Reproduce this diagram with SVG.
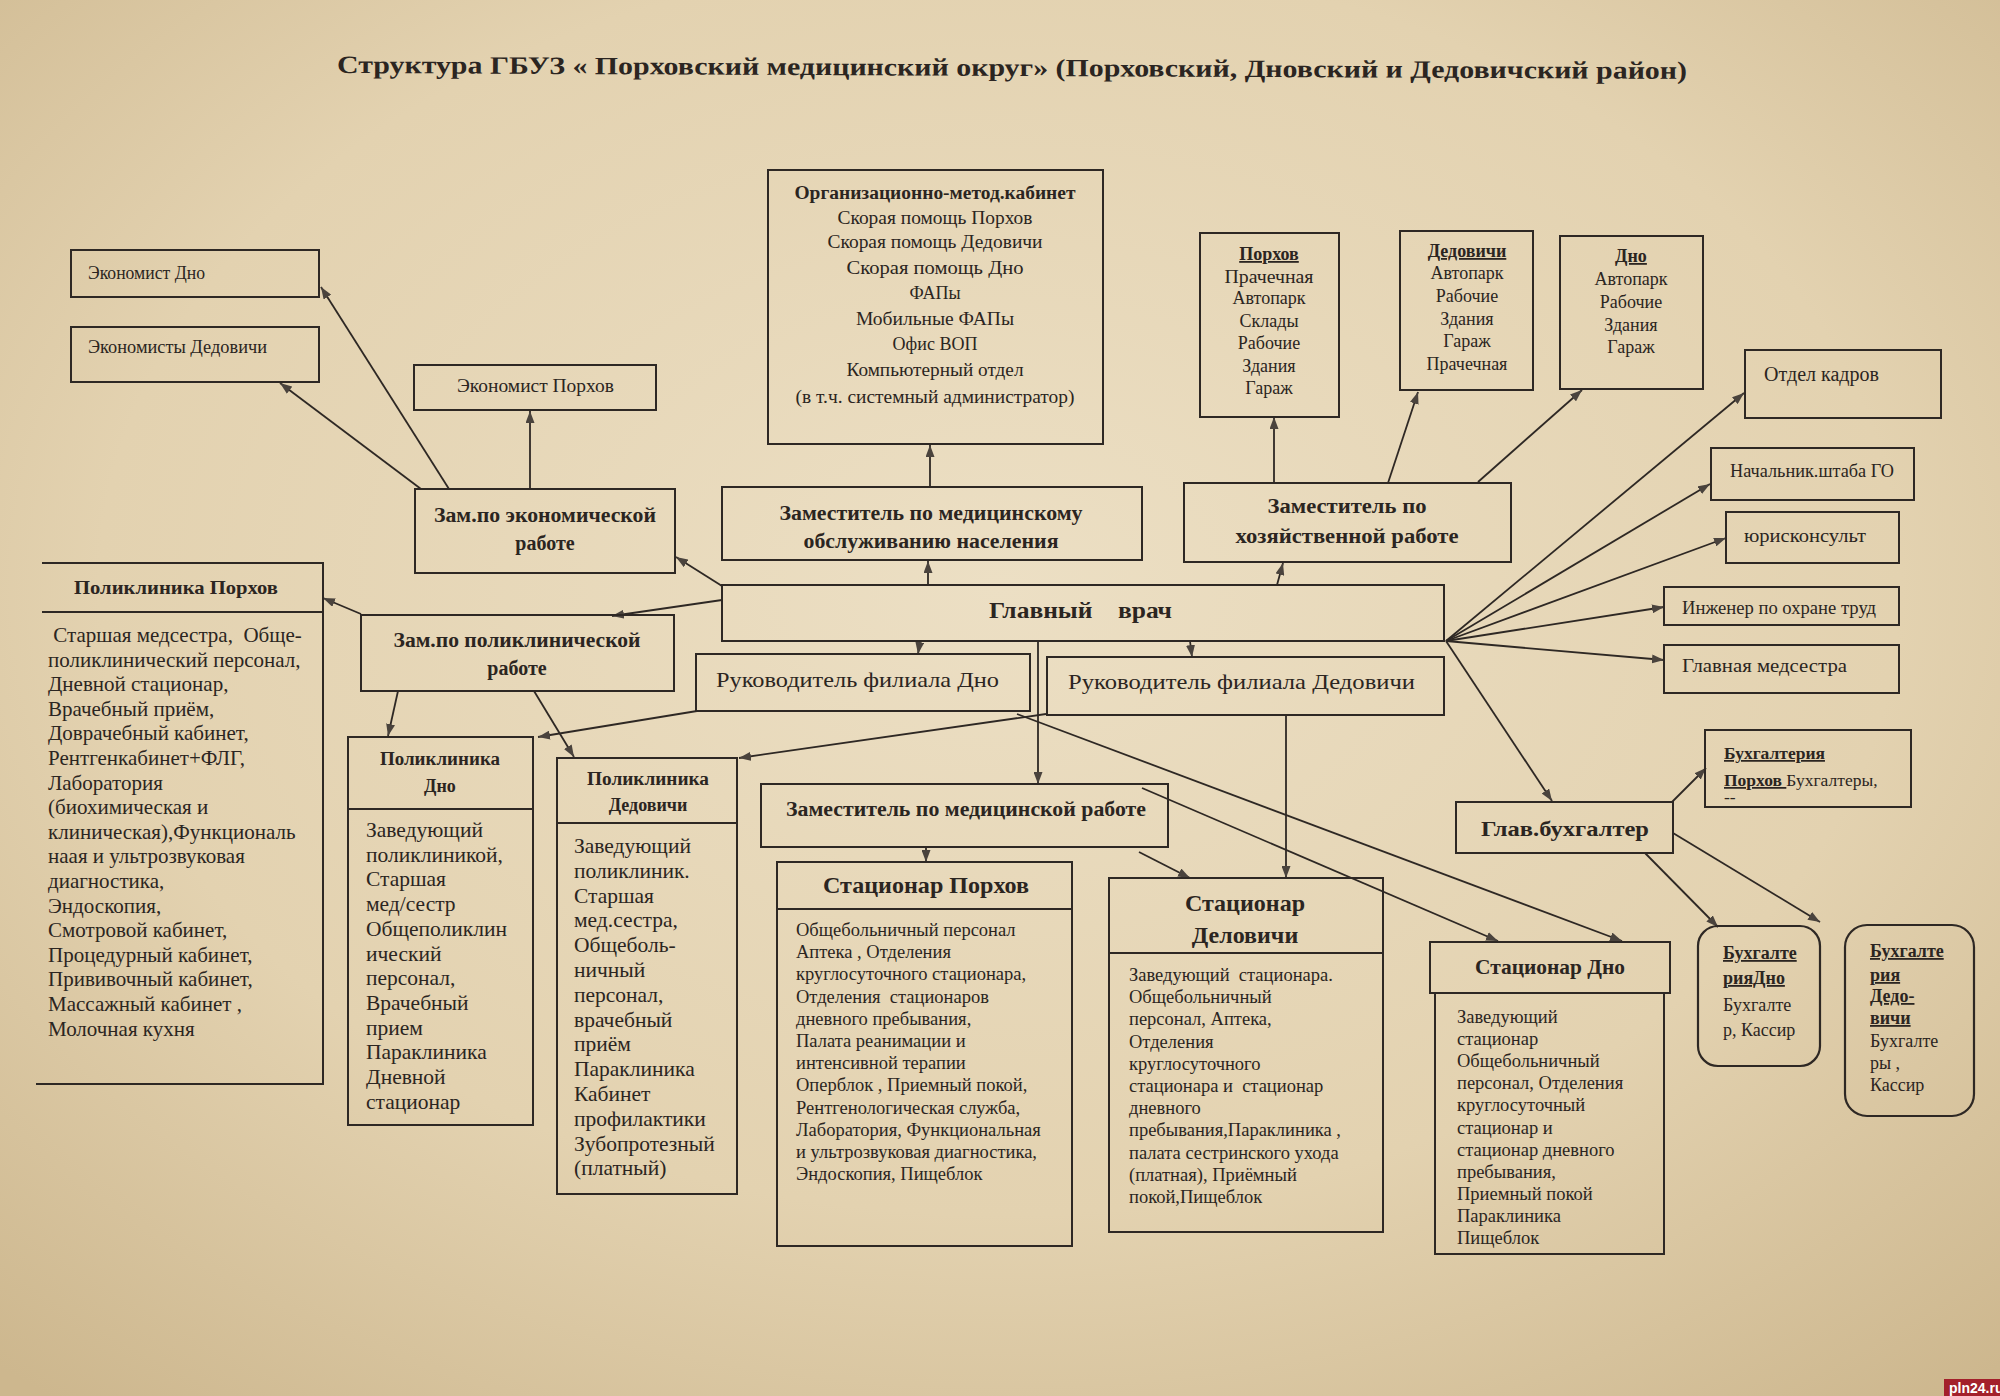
<svg xmlns="http://www.w3.org/2000/svg" width="2000" height="1396" viewBox="0 0 2000 1396">
<defs>
<radialGradient id="bg" cx="50%" cy="42%" r="75%">
<stop offset="0" stop-color="#ecdfc4"/>
<stop offset="0.6" stop-color="#e3d2b0"/>
<stop offset="1" stop-color="#cdb78e"/>
</radialGradient>
<marker id="ah" viewBox="0 0 12 9" refX="12" refY="4.5" markerWidth="12" markerHeight="9" markerUnits="userSpaceOnUse" orient="auto">
<path d="M0,0 L12,4.5 L0,9 z" fill="#4a433d"/>
</marker>
<style>
.bx{fill:none;stroke:#2e2824;stroke-width:2}
.rb{fill:none;stroke:#2e2824;stroke-width:2.2}
.ln{fill:none;stroke:#2e2824;stroke-width:1.8;marker-end:url(#ah)}
text{font-family:"Liberation Serif","Times New Roman",serif;fill:#2b2521}
.b{font-weight:bold}
.c{text-anchor:middle}
.u{text-decoration:underline}
.s17{font-size:18.5px}
.s18{font-size:18px}
.s19{font-size:19.5px}
.s20{font-size:20px}
.s22{font-size:22px}
.s24{font-size:24px}
</style>
</defs>
<rect width="2000" height="1396" fill="url(#bg)"/>

<text id="title" class="b" x="337" y="73" font-size="25" textLength="1350" lengthAdjust="spacingAndGlyphs" transform="rotate(0.25 337 73)">Структура ГБУЗ « Порховский медицинский округ» (Порховский, Дновский и Дедовичский район)</text>

<g id="connectors">
<line class="ln" x1="449" y1="489" x2="321" y2="287"/>
<line class="ln" x1="421" y1="489" x2="280" y2="383"/>
<line class="ln" x1="530" y1="489" x2="530" y2="411"/>
<line class="ln" x1="722" y1="586" x2="676" y2="557"/>
<line class="ln" x1="722" y1="600" x2="612" y2="616"/>
<line class="ln" x1="928" y1="585" x2="928" y2="561"/>
<line class="ln" x1="930" y1="487" x2="930" y2="445"/>
<line class="ln" x1="1277" y1="585" x2="1283" y2="563"/>
<line class="ln" x1="1274" y1="483" x2="1274" y2="417"/>
<line class="ln" x1="1388" y1="483" x2="1418" y2="392"/>
<line class="ln" x1="1478" y1="482" x2="1582" y2="390"/>
<line class="ln" x1="1446" y1="641" x2="1744" y2="393"/>
<line class="ln" x1="1446" y1="641" x2="1710" y2="484"/>
<line class="ln" x1="1446" y1="641" x2="1726" y2="538"/>
<line class="ln" x1="1446" y1="641" x2="1664" y2="607"/>
<line class="ln" x1="1446" y1="641" x2="1664" y2="660"/>
<line class="ln" x1="1446" y1="641" x2="1552" y2="801"/>
<line class="ln" x1="361" y1="614" x2="323" y2="598"/>
<line class="ln" x1="398" y1="691" x2="388" y2="736"/>
<line class="ln" x1="534" y1="691" x2="574" y2="757"/>
<line class="ln" x1="697" y1="711" x2="538" y2="737"/>
<line class="ln" x1="1046" y1="714" x2="739" y2="758"/>
<line class="ln" x1="920" y1="641" x2="918" y2="654"/>
<line class="ln" x1="1190" y1="641" x2="1192" y2="657"/>
<line class="ln" x1="1038" y1="641" x2="1038" y2="784"/>
<line class="ln" x1="926" y1="848" x2="926" y2="862"/>
<line class="ln" x1="1286" y1="715" x2="1286" y2="878"/>
<line class="ln" x1="1139" y1="852" x2="1190" y2="878"/>
<line class="ln" x1="1142" y1="788" x2="1498" y2="941"/>
<line class="ln" x1="1017" y1="714" x2="1622" y2="941"/>
<line class="ln" x1="1672" y1="802" x2="1706" y2="768"/>
<line class="ln" x1="1645" y1="853" x2="1718" y2="927"/>
<line class="ln" x1="1673" y1="833" x2="1820" y2="922"/>
</g>

<g id="n-ekon-dno">
<rect class="bx" x="71" y="250" width="248" height="47"/>
<text class="s18" x="88" y="279" textLength="117" lengthAdjust="spacingAndGlyphs">Экономист Дно</text>
</g>
<g id="n-ekon-ded">
<rect class="bx" x="71" y="327" width="248" height="55"/>
<text class="s18" x="88" y="353" textLength="179" lengthAdjust="spacingAndGlyphs">Экономисты  Дедовичи</text>
</g>
<g id="n-ekon-porh">
<rect class="bx" x="414" y="365" width="242" height="45"/>
<text class="s18" x="457" y="392" textLength="157" lengthAdjust="spacingAndGlyphs">Экономист Порхов</text>
</g>
<g id="n-zam-ekon">
<rect class="bx" x="415" y="489" width="260" height="84"/>
<text class="b s20 c" x="545" y="522" textLength="222" lengthAdjust="spacingAndGlyphs">Зам.по экономической</text>
<text class="b s20 c" x="545" y="550">работе</text>
</g>
<g id="n-orgmet">
<rect class="bx" x="768" y="170" width="335" height="274"/>
<text class="b s18 c" x="935" y="199" textLength="281" lengthAdjust="spacingAndGlyphs">Организационно-метод.кабинет</text>
<text class="s18 c" x="935" y="224" textLength="195" lengthAdjust="spacingAndGlyphs">Скорая помощь Порхов</text>
<text class="s18 c" x="935" y="248" textLength="215" lengthAdjust="spacingAndGlyphs">Скорая помощь Дедовичи</text>
<text class="s18 c" x="935" y="274" textLength="177" lengthAdjust="spacingAndGlyphs">Скорая  помощь  Дно</text>
<text class="s18 c" x="935" y="299">ФАПы</text>
<text class="s18 c" x="935" y="325" textLength="158" lengthAdjust="spacingAndGlyphs">Мобильные ФАПы</text>
<text class="s18 c" x="935" y="350">Офис ВОП</text>
<text class="s18 c" x="935" y="376" textLength="177" lengthAdjust="spacingAndGlyphs">Компьютерный отдел</text>
<text class="s18 c" x="935" y="403" textLength="279" lengthAdjust="spacingAndGlyphs">(в т.ч. системный администратор)</text>
</g>
<g id="n-zam-medobsl">
<rect class="bx" x="722" y="487" width="420" height="73"/>
<text class="b s20 c" x="931" y="520" textLength="303" lengthAdjust="spacingAndGlyphs">Заместитель по медицинскому</text>
<text class="b s20 c" x="931" y="548" textLength="255" lengthAdjust="spacingAndGlyphs">обслуживанию населения</text>
</g>
<g id="n-hoz-porh">
<rect class="bx" x="1200" y="233" width="139" height="184"/>
<text class="b s18 c u" x="1269" y="260">Порхов</text>
<text class="s18 c" x="1269" y="283" textLength="89" lengthAdjust="spacingAndGlyphs">Прачечная</text>
<text class="s18 c" x="1269" y="304">Автопарк</text>
<text class="s18 c" x="1269" y="327">Склады</text>
<text class="s18 c" x="1269" y="349">Рабочие</text>
<text class="s18 c" x="1269" y="372">Здания</text>
<text class="s18 c" x="1269" y="394">Гараж</text>
</g>
<g id="n-hoz-ded">
<rect class="bx" x="1400" y="231" width="133" height="159"/>
<text class="b s18 c u" x="1467" y="257">Дедовичи</text>
<text class="s18 c" x="1467" y="279">Автопарк</text>
<text class="s18 c" x="1467" y="302">Рабочие</text>
<text class="s18 c" x="1467" y="325">Здания</text>
<text class="s18 c" x="1467" y="347">Гараж</text>
<text class="s18 c" x="1467" y="370">Прачечная</text>
</g>
<g id="n-hoz-dno">
<rect class="bx" x="1560" y="236" width="143" height="153"/>
<text class="b s18 c u" x="1631" y="262">Дно</text>
<text class="s18 c" x="1631" y="285">Автопарк</text>
<text class="s18 c" x="1631" y="308">Рабочие</text>
<text class="s18 c" x="1631" y="331">Здания</text>
<text class="s18 c" x="1631" y="353">Гараж</text>
</g>
<g id="n-kadry">
<rect class="bx" x="1745" y="350" width="196" height="68"/>
<text class="s20" x="1764" y="381" textLength="115" lengthAdjust="spacingAndGlyphs">Отдел кадров</text>
</g>
<g id="n-zam-hoz">
<rect class="bx" x="1184" y="483" width="327" height="79"/>
<text class="b s20 c" x="1347" y="513" textLength="159" lengthAdjust="spacingAndGlyphs">Заместитель по</text>
<text class="b s20 c" x="1347" y="543" textLength="223" lengthAdjust="spacingAndGlyphs">хозяйственной работе</text>
</g>
<g id="n-go">
<rect class="bx" x="1711" y="448" width="203" height="52"/>
<text class="s18" x="1730" y="477" textLength="164" lengthAdjust="spacingAndGlyphs">Начальник.штаба ГО</text>
</g>
<g id="n-jur">
<rect class="bx" x="1726" y="512" width="173" height="51"/>
<text class="s18" x="1744" y="542" textLength="122" lengthAdjust="spacingAndGlyphs">юрисконсульт</text>
</g>
<g id="n-ing">
<rect class="bx" x="1664" y="587" width="235" height="38"/>
<text class="s18" x="1682" y="614" textLength="194" lengthAdjust="spacingAndGlyphs">Инженер по охране труд</text>
</g>
<g id="n-glmed">
<rect class="bx" x="1664" y="645" width="235" height="48"/>
<text class="s18" x="1682" y="672" textLength="165" lengthAdjust="spacingAndGlyphs">Главная медсестра</text>
</g>
<g id="n-glvrach">
<rect class="bx" x="722" y="585" width="722" height="56"/>
<text class="b s24" x="989" y="618" xml:space="preserve" textLength="183" lengthAdjust="spacingAndGlyphs">Главный    врач</text>
</g>
<g id="n-ruk-dno">
<rect class="bx" x="696" y="654" width="334" height="57"/>
<text class="s22" x="716" y="687" textLength="283" lengthAdjust="spacingAndGlyphs">Руководитель филиала Дно</text>
</g>
<g id="n-ruk-ded">
<rect class="bx" x="1047" y="657" width="397" height="58"/>
<text class="s22" x="1068" y="689" textLength="347" lengthAdjust="spacingAndGlyphs">Руководитель филиала Дедовичи</text>
</g>
<g id="n-zam-polikl">
<rect class="bx" x="361" y="615" width="313" height="76"/>
<text class="b s20 c" x="517" y="647" textLength="247" lengthAdjust="spacingAndGlyphs">Зам.по поликлинической</text>
<text class="b s20 c" x="517" y="675">работе</text>
</g>
<g id="n-pol-porh">
<path class="bx" d="M42,563 H323 V1084 H36 M42,612 H323"/>
<text class="b s19" x="74" y="594" textLength="204" lengthAdjust="spacingAndGlyphs">Поликлиника Порхов</text>
<g font-size="21">
<text x="48" y="642" xml:space="preserve"> Старшая медсестра,  Обще-</text>
<text x="48" y="666.6">поликлинический персонал,</text>
<text x="48" y="691.2">Дневной стационар,</text>
<text x="48" y="715.8">Врачебный приём,</text>
<text x="48" y="740.4">Доврачебный кабинет,</text>
<text x="48" y="765">Рентгенкабинет+ФЛГ,</text>
<text x="48" y="789.6">Лаборатория</text>
<text x="48" y="814.2">(биохимическая и</text>
<text x="48" y="838.8">клиническая),Функциональ</text>
<text x="48" y="863.4">наая и ультрозвуковая</text>
<text x="48" y="888">диагностика,</text>
<text x="48" y="912.6">Эндоскопия,</text>
<text x="48" y="937.2">Смотровой кабинет,</text>
<text x="48" y="961.8">Процедурный кабинет,</text>
<text x="48" y="986.4">Прививочный кабинет,</text>
<text x="48" y="1011">Массажный кабинет ,</text>
<text x="48" y="1035.6">Молочная кухня</text>
</g>
</g>
<g id="n-pol-dno">
<rect class="bx" x="348" y="737" width="185" height="388"/>
<line class="bx" x1="348" y1="809" x2="533" y2="809"/>
<text class="b s18 c" x="440" y="765" textLength="120" lengthAdjust="spacingAndGlyphs">Поликлиника</text>
<text class="b s18 c" x="440" y="792">Дно</text>
<g font-size="21.5">
<text x="366" y="837">Заведующий</text>
<text x="366" y="861.7">поликлиникой,</text>
<text x="366" y="886.4">Старшая</text>
<text x="366" y="911.1">мед/сестр</text>
<text x="366" y="935.8">Общеполиклин</text>
<text x="366" y="960.5">ический</text>
<text x="366" y="985.2">персонал,</text>
<text x="366" y="1009.9">Врачебный</text>
<text x="366" y="1034.6">прием</text>
<text x="366" y="1059.3">Параклиника</text>
<text x="366" y="1084">Дневной</text>
<text x="366" y="1108.7">стационар</text>
</g>
</g>
<g id="n-pol-ded">
<rect class="bx" x="557" y="758" width="180" height="436"/>
<line class="bx" x1="557" y1="823" x2="737" y2="823"/>
<text class="b s18 c" x="648" y="785" textLength="122" lengthAdjust="spacingAndGlyphs">Поликлиника</text>
<text class="b s18 c" x="648" y="811">Дедовичи</text>
<g font-size="21.5">
<text x="574" y="853">Заведующий</text>
<text x="574" y="877.8">поликлиник.</text>
<text x="574" y="902.6">Старшая</text>
<text x="574" y="927.4">мед.сестра,</text>
<text x="574" y="952.2">Общеболь-</text>
<text x="574" y="977">ничный</text>
<text x="574" y="1001.8">персонал,</text>
<text x="574" y="1026.6">врачебный</text>
<text x="574" y="1051.4">приём</text>
<text x="574" y="1076.2">Параклиника</text>
<text x="574" y="1101">Кабинет</text>
<text x="574" y="1125.8">профилактики</text>
<text x="574" y="1150.6">Зубопротезный</text>
<text x="574" y="1175.4">(платный)</text>
</g>
</g>
<g id="n-zam-medrab">
<rect class="bx" x="761" y="784" width="407" height="63"/>
<text class="b s20" x="786" y="816" textLength="360" lengthAdjust="spacingAndGlyphs">Заместитель по медицинской работе</text>
</g>
<g id="n-stac-porh">
<rect class="bx" x="777" y="862" width="295" height="384"/>
<line class="bx" x1="777" y1="909" x2="1072" y2="909"/>
<text class="b s24 c" x="926" y="893" textLength="206" lengthAdjust="spacingAndGlyphs">Стационар Порхов</text>
<g class="s17">
<text x="796" y="936">Общебольничный персонал</text>
<text x="796" y="958.2">Аптека , Отделения</text>
<text x="796" y="980.4">круглосуточного стационара,</text>
<text x="796" y="1002.6" xml:space="preserve">Отделения  стационаров</text>
<text x="796" y="1024.8">дневного пребывания,</text>
<text x="796" y="1047">Палата реанимации и</text>
<text x="796" y="1069.2">интенсивной терапии</text>
<text x="796" y="1091.4">Оперблок , Приемный покой,</text>
<text x="796" y="1113.6">Рентгенологическая служба,</text>
<text x="796" y="1135.8">Лаборатория, Функциональная</text>
<text x="796" y="1158">и ультрозвуковая диагностика,</text>
<text x="796" y="1180.2">Эндоскопия, Пищеблок</text>
</g>
</g>
<g id="n-stac-ded">
<rect class="bx" x="1109" y="878" width="274" height="354"/>
<line class="bx" x1="1109" y1="953" x2="1383" y2="953"/>
<text class="b s24 c" x="1245" y="911" textLength="120" lengthAdjust="spacingAndGlyphs">Стационар</text>
<text class="b s24 c" x="1245" y="943">Деловичи</text>
<g class="s17">
<text x="1129" y="981" xml:space="preserve">Заведующий  стационара.</text>
<text x="1129" y="1003.2">Общебольничный</text>
<text x="1129" y="1025.4">персонал, Аптека,</text>
<text x="1129" y="1047.6">Отделения</text>
<text x="1129" y="1069.8">круглосуточного</text>
<text x="1129" y="1092" xml:space="preserve">стационара и  стационар</text>
<text x="1129" y="1114.2">дневного</text>
<text x="1129" y="1136.4">пребывания,Параклиника ,</text>
<text x="1129" y="1158.6">палата сестринского ухода</text>
<text x="1129" y="1180.8">(платная), Приёмный</text>
<text x="1129" y="1203">покой,Пищеблок</text>
</g>
</g>
<g id="n-stac-dno">
<rect class="bx" x="1430" y="942" width="240" height="51"/>
<rect class="bx" x="1435" y="993" width="229" height="261"/>
<text class="b s22 c" x="1550" y="974" textLength="150" lengthAdjust="spacingAndGlyphs">Стационар Дно</text>
<g class="s17">
<text x="1457" y="1023">Заведующий</text>
<text x="1457" y="1045.1">стационар</text>
<text x="1457" y="1067.2">Общебольничный</text>
<text x="1457" y="1089.3">персонал, Отделения</text>
<text x="1457" y="1111.4">круглосуточный</text>
<text x="1457" y="1133.5">стационар и</text>
<text x="1457" y="1155.6">стационар дневного</text>
<text x="1457" y="1177.7">пребывания,</text>
<text x="1457" y="1199.8">Приемный покой</text>
<text x="1457" y="1221.9">Параклиника</text>
<text x="1457" y="1244">Пищеблок</text>
</g>
</g>
<g id="n-glbuh">
<rect class="bx" x="1456" y="802" width="217" height="51"/>
<text class="b s22" x="1481" y="836" textLength="168" lengthAdjust="spacingAndGlyphs">Глав.бухгалтер</text>
</g>
<g id="n-buh-porh">
<rect class="bx" x="1705" y="730" width="206" height="77"/>
<text class="b u" font-size="17.5" x="1724" y="759">Бухгалтерия</text>
<text font-size="17.5" x="1724" y="786"><tspan class="b u">Порхов </tspan>Бухгалтеры,</text>
<text font-size="17.5" x="1724" y="803">--</text>
</g>
<g id="n-buh-dno">
<rect class="rb" x="1698" y="926" width="122" height="140" rx="20"/>
<text class="b s18 u" x="1723" y="959">Бухгалте</text>
<text class="b s18 u" x="1723" y="984">рияДно</text>
<text class="s18" x="1723" y="1011">Бухгалте</text>
<text class="s18" x="1723" y="1036">р, Кассир</text>
</g>
<g id="n-buh-ded">
<rect class="rb" x="1845" y="925" width="129" height="191" rx="22"/>
<text class="b s18 u" x="1870" y="957">Бухгалте</text>
<text class="b s18 u" x="1870" y="981">рия</text>
<text class="b s18 u" x="1870" y="1002">Дедо-</text>
<text class="b s18 u" x="1870" y="1024">вичи</text>
<text class="s18" x="1870" y="1047">Бухгалте</text>
<text class="s18" x="1870" y="1069">ры ,</text>
<text class="s18" x="1870" y="1091">Кассир</text>
</g>

<g id="watermark">
<rect x="1944" y="1379" width="56" height="17" fill="#a3202b"/>
<text x="1949" y="1393" font-size="14" font-weight="bold" style="font-family:'Liberation Sans',Arial,sans-serif;fill:#ffffff">pln24.ru</text>
</g>
</svg>
